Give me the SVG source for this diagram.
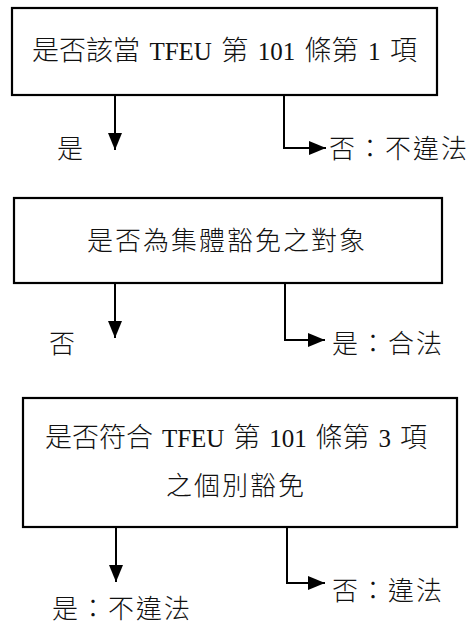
<svg xmlns="http://www.w3.org/2000/svg" width="470" height="625" viewBox="0 0 470 625">
  <style>
    .box { fill: #ffffff; stroke: #000000; stroke-width: 2.2; }
    .t { font-family: "Noto Sans CJK TC", "Liberation Serif", sans-serif; font-size: 26px; font-weight: 300; fill: #111111; letter-spacing: 2px; }
    .m { font-family: "Noto Sans CJK TC", "Liberation Serif", sans-serif; font-size: 27px; font-weight: 300; fill: #111111; }
    .l { font-family: "Liberation Serif", serif; font-size: 25px; font-weight: 400; }
    .c { fill: none; stroke: #000000; stroke-width: 2; }
  </style>
  <defs>
    <marker id="ah" markerUnits="userSpaceOnUse" markerWidth="17" markerHeight="14" refX="17" refY="7" orient="auto">
      <path d="M0,0 L17,7 L0,14 Z" fill="#000000"/>
    </marker>
  </defs>
  <rect width="470" height="625" fill="#ffffff"/>

  <g id="node1">
    <rect class="box" x="12" y="8" width="425" height="87"/>
    <text class="m" y="60"><tspan x="32">是否該當</tspan><tspan class="l" x="149.4">TFEU</tspan><tspan x="221.3">第</tspan><tspan class="l" x="257.7">101</tspan><tspan x="304.6">條第</tspan><tspan class="l" x="368">1</tspan><tspan x="389.9">項</tspan></text>
  </g>
  <g id="node1-yes">
    <text class="t" x="57" y="158">是</text>
  </g>
  <g id="node1-no">
    <text class="t" x="329" y="158">否：不違法</text>
  </g>

  <g id="node2">
    <rect class="box" x="14" y="198" width="428" height="85"/>
    <text class="t" x="87" y="250">是否為集體豁免之對象</text>
  </g>
  <g id="node2-no">
    <text class="t" x="49" y="353">否</text>
  </g>
  <g id="node2-yes">
    <text class="t" x="332" y="353">是：合法</text>
  </g>

  <g id="node3">
    <rect class="box" x="23" y="398" width="434" height="129"/>
    <text class="m" y="447"><tspan x="45">是否符合</tspan><tspan class="l" x="161.9">TFEU</tspan><tspan x="233.3">第</tspan><tspan class="l" x="269.2">101</tspan><tspan x="315.6">條第</tspan><tspan class="l" x="378.5">3</tspan><tspan x="399.9">項</tspan></text>
    <text class="t" x="166" y="495">之個別豁免</text>
  </g>
  <g id="node3-yes">
    <text class="t" x="52" y="618">是：不違法</text>
  </g>
  <g id="node3-no">
    <text class="t" x="332" y="600">否：違法</text>
  </g>

  <g id="connectors">
    <path class="c" d="M115,95 V150" marker-end="url(#ah)"/>
    <path class="c" d="M284,95 V148 H326" marker-end="url(#ah)"/>
    <path class="c" d="M115,283 V338" marker-end="url(#ah)"/>
    <path class="c" d="M285,283 V340 H325" marker-end="url(#ah)"/>
    <path class="c" d="M116,527 V582" marker-end="url(#ah)"/>
    <path class="c" d="M287,527 V583 H325" marker-end="url(#ah)"/>
  </g>
</svg>
